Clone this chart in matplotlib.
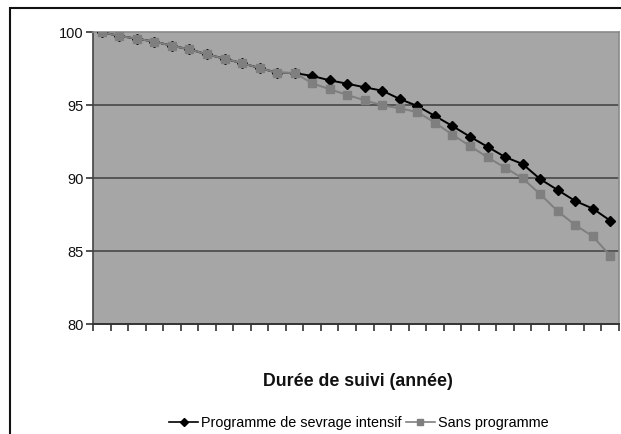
import numpy as np
import matplotlib.pyplot as plt
from matplotlib.lines import Line2D

plt.rcParams['font.family'] = ['Liberation Sans', 'DejaVu Sans']

# survival (%) per follow-up step
avec_prog = [100, 99.75, 99.56, 99.36, 99.08, 98.83, 98.49, 98.19, 97.88, 97.55,
             97.23, 97.21, 97.01, 96.71, 96.48, 96.23, 96.0, 95.43, 94.95, 94.27,
             93.58, 92.85, 92.16, 91.46, 90.98, 89.95, 89.2, 88.45, 87.93, 87.1]
sans_prog = [100, 99.75, 99.56, 99.36, 99.08, 98.83, 98.49, 98.19, 97.88, 97.55,
             97.23, 97.21, 96.51, 96.1, 95.71, 95.34, 95.0, 94.79, 94.54, 93.81,
             92.99, 92.21, 91.44, 90.73, 90.0, 88.92, 87.75, 86.8, 86.03, 84.7]
yticks = [80, 85, 90, 95, 100]

x = np.arange(len(avec_prog))

fig = plt.figure(figsize=(6.21, 4.34), dpi=100)
ax = fig.add_axes([0.1498, 0.2527, 0.8470, 0.6729])
ax.set_facecolor('#a6a6a6')

# outer chart frame
fig.add_artist(plt.Rectangle((0.0161, -0.2), 1.2, 1.1816, transform=fig.transFigure,
                             fill=False, edgecolor='#111111', linewidth=1.5))

for v in yticks[1:-1]:
    ax.axhline(v, color='#555555', linewidth=1.4, zorder=1)

ax.plot(x, avec_prog, color='black', linewidth=1.4, marker='D', markersize=5.5,
        zorder=3)
ax.plot(x, sans_prog, color='#7f7f7f', linewidth=1.4, marker='s', markersize=5.5,
        zorder=4)

ax.set_xlim(-0.5, len(x) - 0.5)
ax.set_ylim(80, 100)
ax.set_xticks(np.arange(len(x) + 1) - 0.5)
ax.set_xticklabels([])
ax.set_yticks(yticks)
ax.tick_params(axis='both', direction='out', length=5, width=1.2, color='#333333',
               labelsize=10.5, labelcolor='#111111')
ax.tick_params(axis='y', pad=2)

for s in ['top', 'right']:
    ax.spines[s].set_color('#8a8a8a')
    ax.spines[s].set_linewidth(1.2)
ax.spines['left'].set_color('#444444')
ax.spines['bottom'].set_color('#333333')
ax.spines['left'].set_linewidth(1.2)
ax.spines['bottom'].set_linewidth(1.4)

fig.text(0.577, 0.12, 'Durée de suivi (année)', ha='center', va='center',
         fontsize=12.8, fontweight='bold', color='#111111')

handles = [Line2D([], [], color='black', marker='D', markersize=4.5, linewidth=1.2),
           Line2D([], [], color='#7f7f7f', marker='s', markersize=4.5, linewidth=1.2)]
fig.legend(handles, ['Programme de sevrage intensif', 'Sans programme'],
           loc='center', bbox_to_anchor=(0.578, 0.025), ncol=2, frameon=False,
           fontsize=10.4, handlelength=2.0, handletextpad=0.2, columnspacing=0.3)

fig.savefig('out.png', dpi=100)
